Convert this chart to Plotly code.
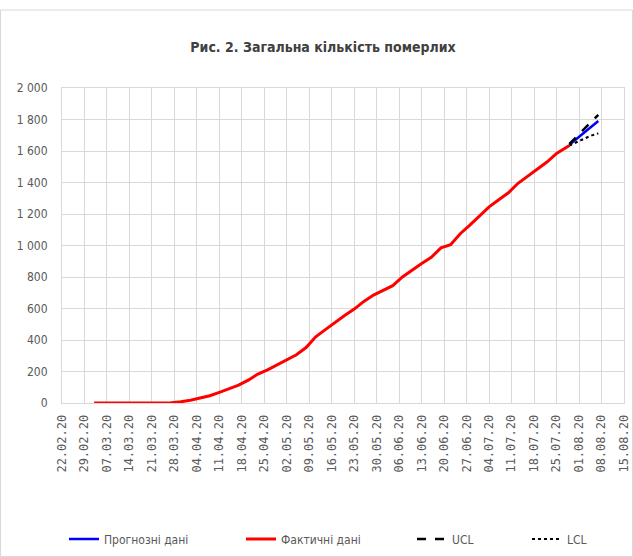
import plotly.graph_objects as go

# ---- data ----
fact_dates = ["2020-03-03", "2020-03-10", "2020-03-17", "2020-03-24", "2020-03-27", "2020-03-30",
              "2020-04-02", "2020-04-05", "2020-04-08", "2020-04-11", "2020-04-14", "2020-04-17",
              "2020-04-20", "2020-04-23", "2020-04-26", "2020-04-29", "2020-05-02", "2020-05-05",
              "2020-05-08", "2020-05-11", "2020-05-14", "2020-05-17", "2020-05-20", "2020-05-23",
              "2020-05-26", "2020-05-29", "2020-06-01", "2020-06-04", "2020-06-07", "2020-06-10",
              "2020-06-13", "2020-06-16", "2020-06-19", "2020-06-22", "2020-06-25", "2020-06-28",
              "2020-07-01", "2020-07-04", "2020-07-07", "2020-07-10", "2020-07-13", "2020-07-16",
              "2020-07-19", "2020-07-22", "2020-07-25", "2020-07-28", "2020-07-29"]
fact_values = [0, 0, 0, 0, 2, 8,
               17, 32, 46, 68, 92, 113,
               145, 184, 210, 241, 270, 306,
               352, 420, 466, 514, 556, 596,
               645, 685, 716, 745, 800, 845,
               885, 925, 985, 1005, 1075, 1130,
               1190, 1245, 1290, 1335, 1395, 1440,
               1485, 1530, 1585, 1625, 1635]

fc_dates = ["2020-07-29", "2020-07-30", "2020-07-31", "2020-08-01", "2020-08-02",
            "2020-08-03", "2020-08-04", "2020-08-05", "2020-08-06", "2020-08-07"]
forecast = [1640, 1656, 1673, 1690, 1705, 1722, 1740, 1756, 1773, 1790]
ucl = [1645, 1665, 1686, 1706, 1727, 1748, 1768, 1789, 1810, 1830]
lcl = [1635, 1645, 1655, 1665, 1674, 1683, 1691, 1699, 1706, 1712]

x_tick_dates = ["2020-02-22", "2020-02-29", "2020-03-07", "2020-03-14", "2020-03-21", "2020-03-28",
                "2020-04-04", "2020-04-11", "2020-04-18", "2020-04-25", "2020-05-02", "2020-05-09",
                "2020-05-16", "2020-05-23", "2020-05-30", "2020-06-06", "2020-06-13", "2020-06-20",
                "2020-06-27", "2020-07-04", "2020-07-11", "2020-07-18", "2020-07-25", "2020-08-01",
                "2020-08-08", "2020-08-15"]
x_tick_text = ["22.02.20", "29.02.20", "07.03.20", "14.03.20", "21.03.20", "28.03.20",
               "04.04.20", "11.04.20", "18.04.20", "25.04.20", "02.05.20", "09.05.20",
               "16.05.20", "23.05.20", "30.05.20", "06.06.20", "13.06.20", "20.06.20",
               "27.06.20", "04.07.20", "11.07.20", "18.07.20", "25.07.20", "01.08.20",
               "08.08.20", "15.08.20"]
y_tick_vals = [0, 200, 400, 600, 800, 1000, 1200, 1400, 1600, 1800, 2000]
y_tick_text = ["0", "200", "400", "600", "800", "1 000", "1 200", "1 400", "1 600", "1 800", "2 000"]

title_text = "Рис. 2. Загальна кількість померлих"

# ---- figure ----
W, H = 633, 557
ML, MR, MT, MB = 62, 9, 88, 154
PW, PH = W - ML - MR, H - MT - MB

def px_x(p):
    return (p - ML) / PW

def px_y(p):
    return (H - MB - p) / PH

narrow = "DejaVu Sans Condensed, Liberation Sans Narrow, sans-serif"
grey = "#595959"
grid = "#d9d9d9"

fig = go.Figure()
fig.add_trace(go.Scatter(x=fc_dates, y=forecast, mode="lines", name="Прогнозні дані",
                         line=dict(color="#0000ff", width=2.5), legend="legend"))
fig.add_trace(go.Scatter(x=fact_dates, y=fact_values, mode="lines", name="Фактичні дані",
                         line=dict(color="#ff0000", width=3), legend="legend2"))
fig.add_trace(go.Scatter(x=fc_dates, y=ucl, mode="lines", name="UCL",
                         line=dict(color="#000000", width=2.5, dash="dash"), legend="legend3"))
fig.add_trace(go.Scatter(x=fc_dates, y=lcl, mode="lines", name="LCL",
                         line=dict(color="#000000", width=2, dash="dot"), legend="legend4"))

leg_common = dict(orientation="h", yanchor="middle", xanchor="left",
                  xref="container", yref="container",
                  font=dict(family=narrow, size=12, color=grey),
                  bgcolor="rgba(0,0,0,0)", borderwidth=0)
ly = 1 - 539 / H

fig.update_layout(
    width=W, height=H,
    margin=dict(l=ML, r=MR, t=MT, b=MB, autoexpand=False),
    paper_bgcolor="white", plot_bgcolor="white",
    showlegend=True,
    title=dict(text=title_text, x=323 / W, xref="container", xanchor="center", y=1 - 47 / H, yanchor="middle",
               font=dict(family=narrow, size=14, color="#404040", weight="bold")),
    xaxis=dict(type="date", range=["2020-02-22", "2020-08-15"], automargin=False,
               tickmode="array", tickvals=x_tick_dates, ticktext=x_tick_text,
               tickangle=-90, tickfont=dict(family="DejaVu Sans Mono, monospace", size=12, color=grey),
               showgrid=True, gridcolor=grid, gridwidth=1,
               showline=True, linecolor=grid, linewidth=1, mirror=True,
               ticks="", ticklabelstandoff=6, zeroline=False),
    yaxis=dict(range=[0, 2000], automargin=False, tickmode="array", tickvals=y_tick_vals, ticktext=y_tick_text,
               tickfont=dict(family=narrow, size=12, color=grey),
               showgrid=True, gridcolor=grid, gridwidth=1,
               showline=True, linecolor=grid, linewidth=1, mirror=True,
               ticks="", ticklabelstandoff=11, zeroline=False),
    legend=dict(x=64 / W, y=ly, **leg_common),
    legend2=dict(x=241 / W, y=ly, **leg_common),
    legend3=dict(x=412 / W, y=ly, **leg_common),
    legend4=dict(x=527 / W, y=ly, **leg_common),
    shapes=[dict(type="rect", xref="paper", yref="paper",
                 x0=px_x(0.5), x1=px_x(632.5), y0=px_y(556.5), y1=px_y(10),
                 line=dict(color=grid, width=1), fillcolor="rgba(0,0,0,0)", layer="below")],
)

fig.write_html("out.html", post_script="document.body.style.margin='0';",
               config={"displayModeBar": False})
